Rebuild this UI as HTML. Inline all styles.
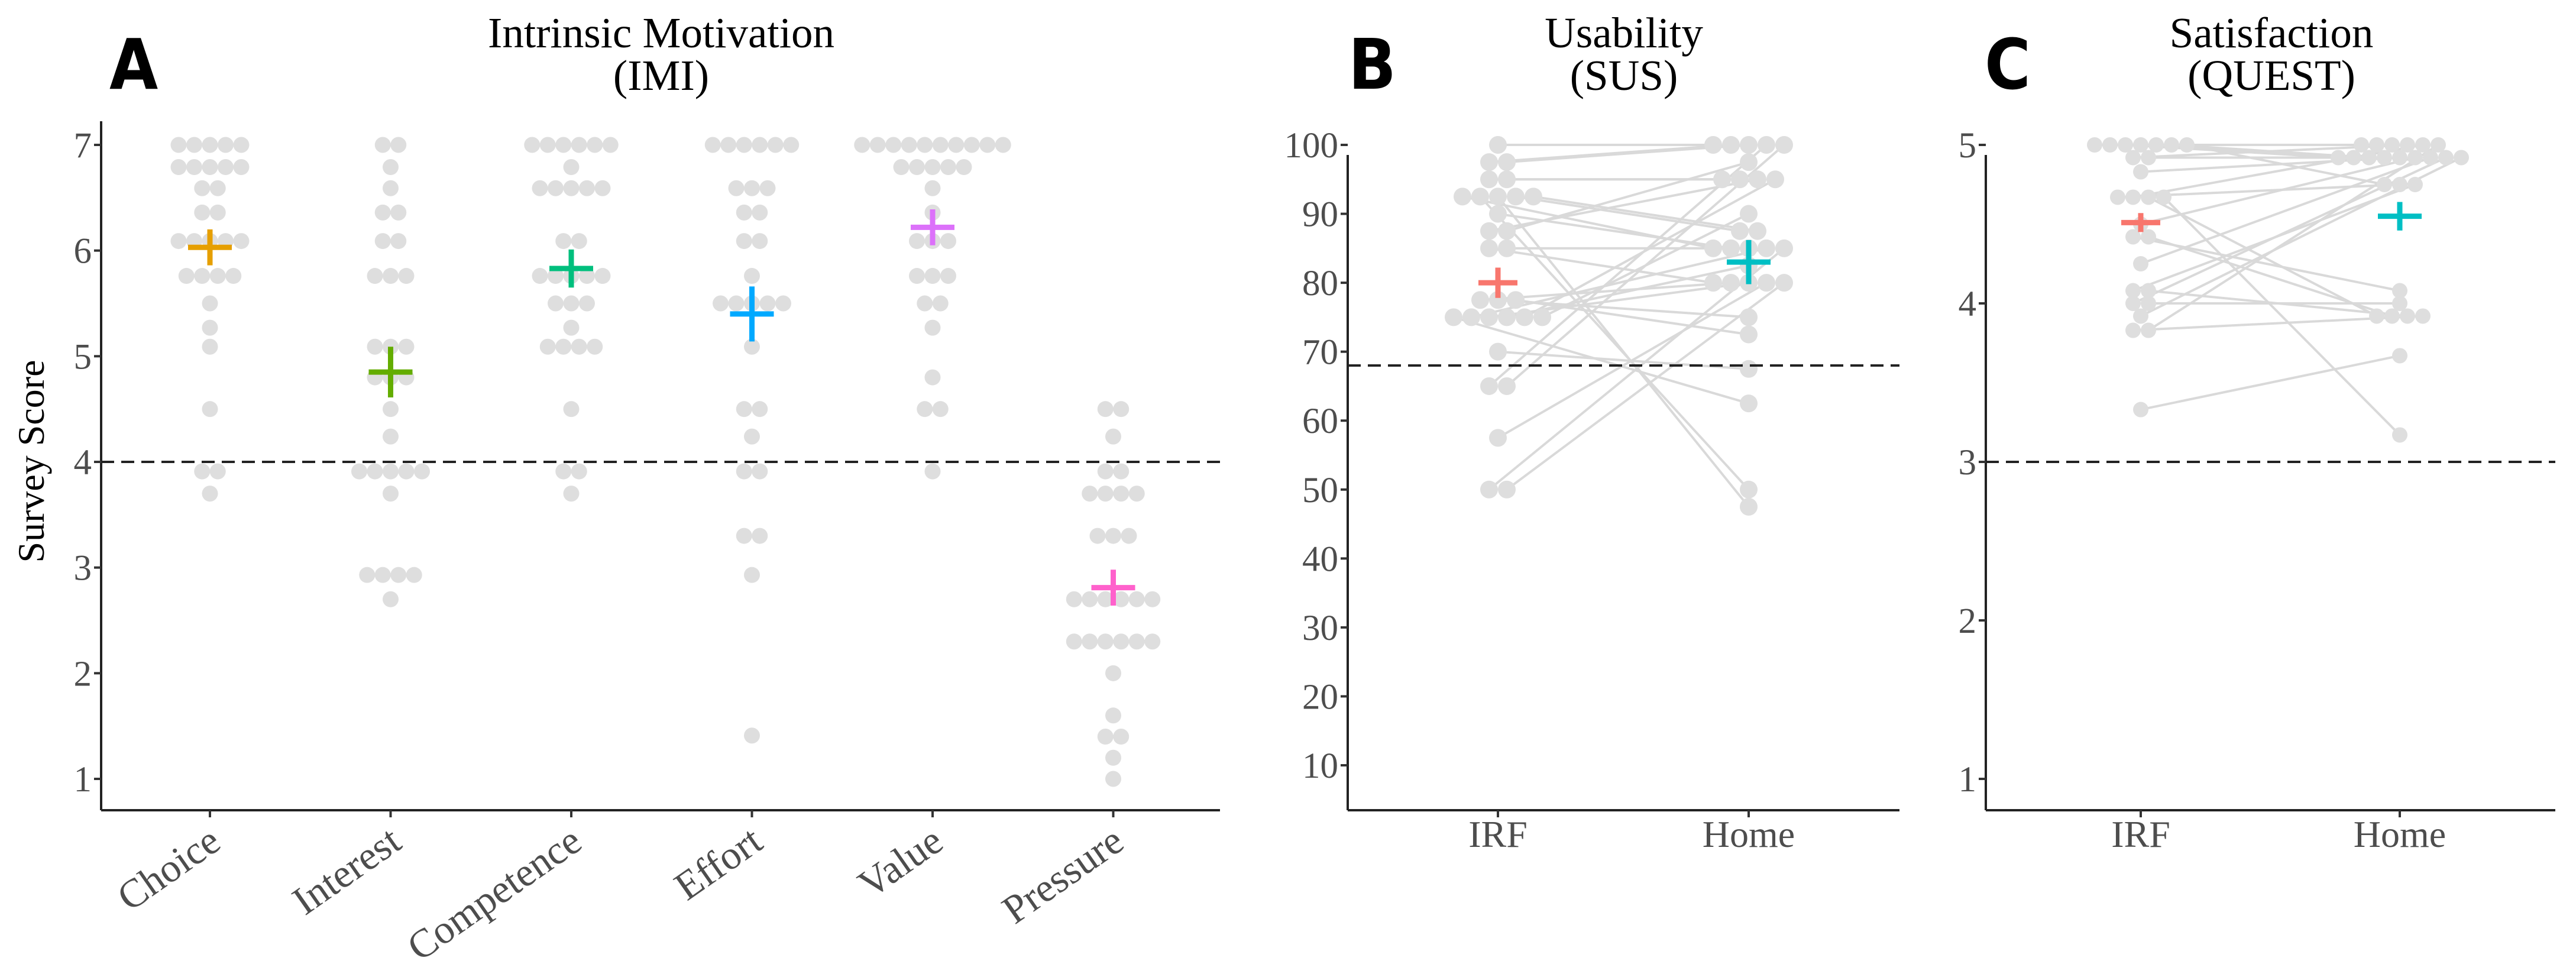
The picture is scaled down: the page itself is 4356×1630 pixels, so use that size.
<!DOCTYPE html>
<html><head><meta charset="utf-8"><style>
html,body{margin:0;padding:0;background:#fff;}
svg{display:block;}
text{font-family:"Liberation Serif",serif;}
</style></head><body>
<svg id="fig" width="4356" height="1630" viewBox="0 0 4356 1630" xmlns="http://www.w3.org/2000/svg"></svg>
<script>
// ---------- DATA ----------
const imiCategories = ["Choice","Interest","Competence","Effort","Value","Pressure"];
const imiColors = ["#E69F00","#64AD00","#00BF7D","#00A9FF","#DC71FA","#FF61CC"];
const imiChoice = [7,7,7,7,7,6.79,6.79,6.79,6.79,6.79,6.59,6.59,6.36,6.36,6.09,6.09,6.09,6.09,6.09,5.76,5.76,5.76,5.76,5.5,5.27,5.09,4.5,3.91,3.91,3.7];
const imiInterest = [7,7,6.79,6.59,6.36,6.36,6.09,6.09,5.76,5.76,5.76,5.09,5.09,5.09,4.8,4.8,4.8,4.5,4.24,3.91,3.91,3.91,3.91,3.91,3.7,2.93,2.93,2.93,2.93,2.7];
const imiCompetence = [7,7,7,7,7,7,6.79,6.59,6.59,6.59,6.59,6.59,6.09,6.09,5.76,5.76,5.76,5.76,5.76,5.5,5.5,5.5,5.27,5.09,5.09,5.09,5.09,4.5,3.91,3.91,3.7];
const imiEffort = [7,7,7,7,7,7,6.59,6.59,6.59,6.36,6.36,6.09,6.09,5.76,5.5,5.5,5.5,5.5,5.5,5.09,4.5,4.5,4.24,3.91,3.91,3.3,3.3,2.93,1.41];
const imiValue = [7,7,7,7,7,7,7,7,7,7,6.79,6.79,6.79,6.79,6.79,6.59,6.36,6.09,6.09,6.09,5.76,5.76,5.76,5.5,5.5,5.27,4.8,4.5,4.5,3.91];
const imiPressure = [4.5,4.5,4.24,3.91,3.91,3.7,3.7,3.7,3.7,3.3,3.3,3.3,2.7,2.7,2.7,2.7,2.7,2.7,2.3,2.3,2.3,2.3,2.3,2.3,2.0,1.6,1.4,1.4,1.2,1.0];
const imiMeans = [6.03,4.85,5.83,5.4,6.22,2.81];
const imiErr = [0.17,0.24,0.18,0.26,0.17,0.17];
const imiTicks = [1,2,3,4,5,6,7];
const imiThreshold = 4;

const susCategories = ["IRF","Home"];
const susIRF  = [100,97.5,97.5,95,95,92.5,92.5,92.5,92.5,92.5,90,87.5,87.5,85,85,77.5,77.5,77.5,75,75,75,75,75,75,70,65,65,57.5,50,50];
const susHome = [100,100,100,95,95,85,50,47.5,87.5,87.5,85,95,97.5,80,85,80,75,72.5,62.5,85,80,82.5,95,90,67.5,100,100,80,85,80];
const susMeans = [80,83];
const susErr = [2.2,3.2];
const susTicks = [10,20,30,40,50,60,70,80,90,100];
const susThreshold = 68;

const questCategories = ["IRF","Home"];
const questIRF  = [5,5,5,5,5,5,5,4.92,4.92,4.83,4.67,4.67,4.67,4.67,4.5,4.42,4.42,4.25,4.08,4.08,4,4,3.92,3.83,3.83,3.33];
const questHome = [5,5,4.92,4.92,5,4.92,4.75,5,4.92,4.92,4.75,5,3.92,3.17,4.92,4.08,3.92,4.92,4.75,3.92,4.92,4,4.92,3.92,5,3.67];
const questMeans = [4.51,4.55];
const questErr = [0.06,0.09];
const questTicks = [1,2,3,4,5];
const questThreshold = 3;

// ---------- HELPERS ----------
const NS="http://www.w3.org/2000/svg";
const svg=document.getElementById('fig');
function mk(tag,attrs,parent){const e=document.createElementNS(NS,tag);for(const k in attrs)e.setAttribute(k,attrs[k]);(parent||svg).appendChild(e);return e;}
function txt(s,attrs,parent){const t=mk('text',attrs,parent);t.textContent=s;return t;}
function lin(d0,d1,r0,r1){return v=>r0+(v-d0)*(r1-r0)/(d1-d0);}

function swarmPositions(vals,cx,spacing){
  const groups={};const pos=[];
  vals.forEach((v,i)=>{const k=v.toFixed(3);(groups[k]=groups[k]||[]).push(i);});
  for(const k in groups){const idx=groups[k];const n=idx.length;
    idx.forEach((i,j)=>{pos[i]=cx+(j-(n-1)/2)*spacing;});}
  return pos;
}

function axes(g,x0,x1,yTop,yBot,ticks,y,name){
  const ax=mk('g',{},g);
  
  
  mk('line',{x1:x0,y1:yTop,x2:x0,y2:yBot,stroke:'#222','stroke-width':4},ax);
  ticks.forEach(t=>{
    mk('line',{x1:x0-12,y1:y(t),x2:x0,y2:y(t),stroke:'#333','stroke-width':4},ax);
    const l=txt(String(t),{x:x0-16,y:y(t)+21,'text-anchor':'end','font-size':61,fill:'#4d4d4d'},ax);
    
    
  });
  const xa=mk('line',{x1:x0,y1:yBot,x2:x1,y2:yBot,stroke:'#222','stroke-width':4},g);
  
  
}

function crossMark(g,cx,cy,halfW,yTop,yBot,color,name){
  const c=mk('g',{},g);
  
  
  mk('line',{x1:cx-halfW,y1:cy,x2:cx+halfW,y2:cy,stroke:color,'stroke-width':9},c);
  mk('line',{x1:cx,y1:yTop,x2:cx,y2:yBot,stroke:color,'stroke-width':9},c);
}

function title(g,l1,l2,cx,name){
  const t=txt(l1,{x:cx,y:80,'text-anchor':'middle','font-size':73,fill:'#000'},g);
  
  
  const t2=txt(l2,{x:cx,y:152,'text-anchor':'middle','font-size':73,fill:'#000'},g);
  
  
}
function panelLetter(g,s,x){
  const t=txt(s,{x:x,y:150,'font-size':118,'font-weight':'bold',fill:'#000',style:'font-family:"DejaVu Sans Condensed","DejaVu Sans",sans-serif;font-stretch:condensed'},g);
  
  
}

// ---------- PANEL A ----------
(function(){
  const g=mk('g',{});
  
  
  const x0=171,x1=2063,yBot=1370;
  const y=lin(1,7,1317,245);
  const xc=i=>355+i*305.5;
  panelLetter(g,'A',185);
  title(g,'Intrinsic Motivation','(IMI)',1118,'imi');
  const yl=txt('Survey Score',{x:0,y:0,'text-anchor':'middle','font-size':64,fill:'#000',transform:'translate(74,780) rotate(-90)'},g);
  
  
  const series=[imiChoice,imiInterest,imiCompetence,imiEffort,imiValue,imiPressure];
  series.forEach((vals,i)=>{
    const sg=mk('g',{},g);
    
    
    const px=swarmPositions(vals,xc(i),26.5);
    vals.forEach((v,j)=>{
      const d=mk('circle',{cx:px[j],cy:y(v),r:13.5,fill:'#dedede'},sg);
      
      
    });
  });
  const dl=mk('line',{x1:x0,y1:y(imiThreshold),x2:x1,y2:y(imiThreshold),stroke:'#222','stroke-width':4,'stroke-dasharray':'22 12'},g);
  
  
  imiMeans.forEach((m,i)=>crossMark(g,xc(i),y(m),37,y(m+imiErr[i]),y(m-imiErr[i]),imiColors[i],'mean-'+imiCategories[i].toLowerCase()));
  axes(g,x0,x1,205,yBot,imiTicks,y,'imi');
  imiCategories.forEach((c,i)=>{
    mk('line',{x1:xc(i),y1:yBot,x2:xc(i),y2:yBot+12,stroke:'#333','stroke-width':4},g);
    const t=txt(c,{x:0,y:0,'text-anchor':'end','font-size':68,fill:'#4d4d4d',transform:`translate(${xc(i)+22},${yBot+62}) rotate(-35)`},g);
    
    
  });
})();

// ---------- PAIRED PANELS ----------
function paired(opts){
  const g=mk('g',{});
  
  
  const {x0,x1,y,xc,a,b,r,sp}=opts;const yBot=1370;
  panelLetter(g,opts.letter,opts.letterX);
  title(g,opts.t1,opts.t2,opts.titleX,opts.key);
  const pa=swarmPositions(a,xc(0),sp), pb=swarmPositions(b,xc(1),sp);
  const lg=mk('g',{},g);
  
  
  a.forEach((v,i)=>{
    const l=mk('line',{x1:pa[i],y1:y(v),x2:pb[i],y2:y(b[i]),stroke:'#d9d9d9','stroke-width':4},lg);
    
    
  });
  [[a,pa,'irf'],[b,pb,'home']].forEach(([vals,px,n])=>{
    const sg=mk('g',{},g);
    
    
    vals.forEach((v,j)=>{
      const d=mk('circle',{cx:px[j],cy:y(v),r:r,fill:'#dedede'},sg);
      
      
    });
  });
  const dl=mk('line',{x1:x0,y1:y(opts.thr),x2:x1,y2:y(opts.thr),stroke:'#222','stroke-width':4,'stroke-dasharray':'22 12'},g);
  
  
  const cols=['#F8766D','#00BFC4'];
  opts.means.forEach((m,i)=>crossMark(g,xc(i),y(m),opts.hw[i],y(m+opts.err[i]),y(m-opts.err[i]),cols[i],'mean-'+opts.cats[i].toLowerCase()));
  axes(g,x0,x1,262,yBot,opts.ticks,y,opts.key);
  opts.cats.forEach((c,i)=>{
    mk('line',{x1:xc(i),y1:yBot,x2:xc(i),y2:yBot+12,stroke:'#333','stroke-width':4},g);
    const t=txt(c,{x:xc(i),y:yBot+62,'text-anchor':'middle','font-size':64,fill:'#4d4d4d'},g);
    
    
  });
}
paired({name:'panel-b-sus',key:'sus',letter:'B',letterX:2280,t1:'Usability',t2:'(SUS)',titleX:2746,
  x0:2279,x1:3212,y:lin(10,100,1294,245),xc:i=>2533+i*424,a:susIRF,b:susHome,r:15,sp:30,
  thr:susThreshold,means:susMeans,err:susErr,hw:[33,37],cats:susCategories,ticks:susTicks});
paired({name:'panel-c-quest',key:'quest',letter:'C',letterX:3356,t1:'Satisfaction',t2:'(QUEST)',titleX:3841,
  x0:3358,x1:4321,y:lin(1,5,1317,245),xc:i=>3620+i*438,a:questIRF,b:questHome,r:13,sp:26,
  thr:questThreshold,means:questMeans,err:questErr,hw:[33,37],cats:questCategories,ticks:questTicks});
</script>
</body></html>
